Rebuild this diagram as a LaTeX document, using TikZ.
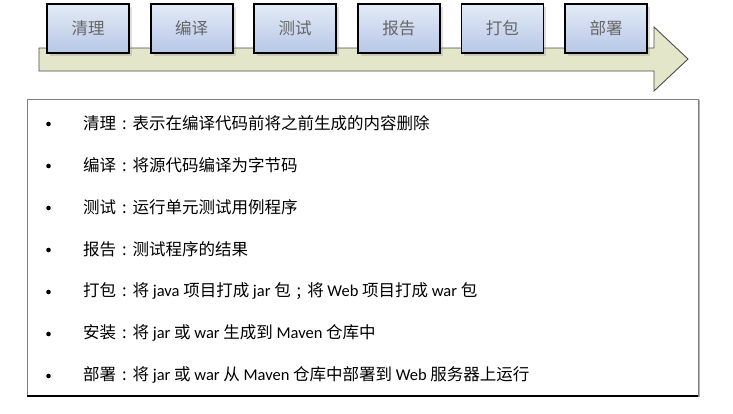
\documentclass[tikz,border=0pt]{standalone}
\usepackage{fontspec}
\setmainfont{Noto Sans CJK SC}
\newfontfamily\latfont{Carlito}
\usetikzlibrary{positioning,shadows}
\definecolor{boxtop}{RGB}{228,235,247}
\definecolor{boxbot}{RGB}{182,199,230}
\definecolor{band}{RGB}{228,230,202}
\newcommand{\lat}[1]{{\latfont #1}}
\newcommand{\cln}{\makebox[1em]{:}}
\newcommand{\smc}{\makebox[1em]{;}}

\begin{document}
\begin{tikzpicture}[x=1pt,y=-1pt,node distance=19.8pt]
	\tikzstyle{stage}=[draw, rectangle, line width=1.8pt, minimum width=82pt, minimum height=49pt, inner sep=0pt, top color=boxtop, bottom color=boxbot, text=black!60, font=\fontsize{16.5}{17}\selectfont, drop shadow={shadow xshift=3pt, shadow yshift=-3pt, opacity=0.25}]
	\tikzstyle{item}=[anchor=west, inner sep=0pt, font=\fontsize{16.5}{20}\selectfont]
	\tikzstyle{dot}=[circle, fill=black, inner sep=0pt, minimum size=4.6pt]

	\useasboundingbox (0,0) rectangle (733,413);

	% the big arrow behind the stages
	\draw[fill=band, draw=black!70, line width=0.9pt] (39,48) -- (654,48) -- (654,27) -- (688,59) -- (654,91) -- (654,71) -- (39,71) -- cycle;

	\node[stage] (clean) at (88,28.5) {清理};
	\node[stage] (compile) [right=of clean] {编译};
	\node[stage] (test) [right=of compile] {测试};
	\node[stage] (report) [right=of test] {报告};
	\node[stage] (package) [right=of report] {打包};
	\node[stage] (deploy) [right=of package] {部署};

	% list frame
	\draw[draw=black!50, line width=0.9pt] (27,99) rectangle (698,396);
	\draw[black, line width=1.2pt] (27,396) -- (698,396);
	\draw[black!30, line width=1pt] (699.5,100) -- (699.5,397);

	\foreach \txt [count=\i] in {
		{清理\cln 表示在编译代码前将之前生成的内容删除},
		{编译\cln 将源代码编译为字节码},
		{测试\cln 运行单元测试用例程序},
		{报告\cln 测试程序的结果},
		{打包\cln 将 \lat{java} 项目打成 \lat{jar} 包\smc 将 \lat{Web} 项目打成 \lat{war} 包},
		{安装\cln 将 \lat{jar} 或 \lat{war} 生成到 \lat{Maven} 仓库中},
		{部署\cln 将 \lat{jar} 或 \lat{war} 从 \lat{Maven} 仓库中部署到 \lat{Web} 服务器上运行}}
	{
		\node[dot] (dot\i) at (48.5,{124+42*(\i-1)}) {};
		\node[item] (item\i) at (83,{123+42*(\i-1)}) {\txt};
	}
\end{tikzpicture}
\end{document}
